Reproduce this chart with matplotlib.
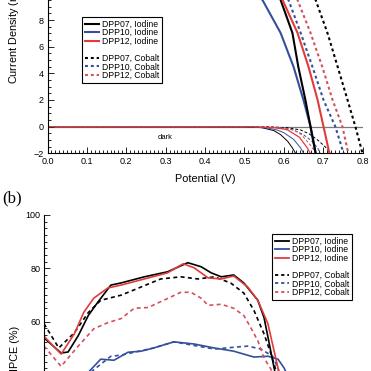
import matplotlib
matplotlib.use("Agg")
import matplotlib.pyplot as plt
from matplotlib.lines import Line2D
from matplotlib.ticker import MultipleLocator, FixedLocator

plt.rcParams["font.family"] = ["Liberation Sans", "DejaVu Sans"]

# ── colours ───────────────────────────────────────────────────────────────────
BLACK = "#000000"
BLUE = "#34509a"
RED = "#e03c3c"
RED_CO = "#d4505a"

# ── (a) J-V curves, illuminated ──────────────────────────────────────────────
v_dpp07_i = [0.0, 0.45, 0.54, 0.592, 0.622, 0.637, 0.655, 0.668, 0.681, 0.69]
j_dpp07_i = [15.0, 14.5, 12.8, 9.5, 7.03, 4.48, 2.0, 0.0, -2.0, -3.0]
v_dpp10_i = [0.0, 0.35, 0.47, 0.546, 0.592, 0.625, 0.650, 0.668, 0.681, 0.69]
j_dpp10_i = [13.0, 12.5, 11.8, 9.5, 7.03, 4.48, 2.0, 0.0, -2.0, -3.0]
v_dpp12_i = [0.0, 0.45, 0.54, 0.597, 0.635, 0.663, 0.686, 0.701, 0.716, 0.725]
j_dpp12_i = [14.5, 14.0, 12.5, 9.5, 7.03, 4.48, 2.0, 0.0, -2.0, -3.0]
v_dpp07_c = [0.0, 0.52, 0.62, 0.681, 0.711, 0.737, 0.762, 0.782, 0.800, 0.81]
j_dpp07_c = [15.5, 15.0, 12.5, 9.5, 7.03, 4.48, 2.0, 0.0, -2.0, -3.0]
v_dpp10_c = [0.0, 0.45, 0.55, 0.612, 0.643, 0.673, 0.701, 0.731, 0.752, 0.76]
j_dpp10_c = [14.0, 13.5, 12.0, 9.5, 7.03, 4.48, 2.0, 0.0, -2.0, -3.0]
v_dpp12_c = [0.0, 0.48, 0.58, 0.635, 0.668, 0.698, 0.724, 0.749, 0.764, 0.772]
j_dpp12_c = [14.5, 14.0, 12.3, 9.5, 7.03, 4.48, 2.0, 0.0, -2.0, -3.0]

# ── (a) J-V curves, dark ─────────────────────────────────────────────────────
vd_dpp07_i = [0.0, 0.50, 0.545, 0.575, 0.592, 0.61, 0.622, 0.632, 0.64]
jd_dpp07_i = [0.0, -0.01, -0.08, -0.3, -0.6, -1.1, -1.6, -2.1, -2.6]
vd_dpp10_i = [0.0, 0.51, 0.56, 0.585, 0.60, 0.625, 0.643, 0.652, 0.66]
jd_dpp10_i = [0.0, -0.01, -0.1, -0.27, -0.45, -0.95, -1.6, -2.1, -2.6]
vd_dpp12_i = [0.0, 0.52, 0.575, 0.60, 0.61, 0.64, 0.66, 0.669, 0.675]
jd_dpp12_i = [0.0, -0.01, -0.08, -0.18, -0.25, -0.8, -1.6, -2.1, -2.6]
vd_dpp07_c = [0.0, 0.56, 0.61, 0.643, 0.665, 0.686, 0.705, 0.72, 0.73]
jd_dpp07_c = [0.0, -0.01, -0.08, -0.25, -0.55, -1.0, -1.5, -2.05, -2.5]
vd_dpp10_c = [0.0, 0.54, 0.595, 0.625, 0.65, 0.672, 0.686, 0.694, 0.70]
jd_dpp10_c = [0.0, -0.01, -0.08, -0.25, -0.6, -1.1, -1.6, -2.1, -2.6]
vd_dpp12_c = [0.0, 0.53, 0.585, 0.625, 0.645, 0.668, 0.676, 0.682, 0.69]
jd_dpp12_c = [0.0, -0.01, -0.08, -0.25, -0.6, -1.4, -1.75, -2.1, -2.6]

# ── (b) IPCE spectra ─────────────────────────────────────────────────────────
wl_dpp07_i = [400, 422, 431, 444, 457, 469, 486, 499, 529, 559, 585, 602, 615,
              628, 644, 657, 675, 683, 689, 696, 705, 718, 735, 760]
ipce_dpp07_i = [53.9, 48.2, 48.6, 54.7, 62.3, 67.2, 73.7, 74.5, 76.8, 78.7, 82.1,
                80.6, 78.3, 76.8, 77.5, 74.5, 68.0, 61.5, 52.8, 42.5, 30, 12, 3, 0.5]
wl_dpp12_i = [400, 422, 439, 451, 464, 482, 499, 529, 559, 579, 593, 611, 628,
              644, 662, 675, 688, 696, 702, 712, 725, 740, 760]
ipce_dpp12_i = [54.5, 47.8, 55.4, 63.4, 68.8, 72.6, 73.7, 76.0, 78.3, 81.7, 80.2,
                76.4, 76.0, 77.1, 73.0, 68.0, 59.2, 48.9, 41.3, 28, 12, 3, 0.5]
wl_dpp10_i = [400, 420, 440, 457, 473, 490, 508, 525, 541, 567, 593, 619, 644,
              670, 688, 701, 709, 714, 725, 740, 760]
ipce_dpp10_i = [30, 27, 33, 41, 45.9, 45.5, 48.5, 48.9, 50.1, 52.4, 51.6, 50.1,
                48.9, 46.7, 47.0, 45.9, 42.5, 39, 25, 8, 1]
wl_dpp07_c = [400, 419, 439, 457, 473, 499, 525, 550, 576, 598, 619, 640, 657,
              670, 683, 692, 698, 710, 725, 745]
ipce_dpp07_c = [59.2, 50.1, 55.8, 63.4, 68.0, 69.9, 73.0, 76.0, 76.8, 76.0, 76.8,
                74.5, 70.7, 64.2, 55.4, 47.8, 42.0, 25, 8, 1]
wl_dpp10_c = [400, 420, 440, 460, 486, 499, 541, 567, 619, 649, 662, 679, 694,
              701, 712, 725, 745]
ipce_dpp10_c = [28, 25, 32, 41, 47.0, 47.4, 50.1, 52.4, 49.7, 50.5, 50.8, 49.7,
                47.0, 42.5, 30, 10, 1]
wl_dpp12_c = [400, 422, 444, 464, 482, 499, 516, 534, 554, 576, 589, 602, 611,
              628, 644, 657, 666, 675, 683, 692, 705, 720, 740]
ipce_dpp12_c = [50.8, 43.2, 50.8, 57.3, 59.6, 61.1, 65.0, 65.3, 68.0, 71.0, 71.0,
                68.8, 66.1, 66.5, 65.0, 62.3, 57.7, 52.8, 46.3, 42.1, 28, 10, 1]

ipce_ticks = [60, 80, 100]
legend_labels = ["DPP07, Iodine", "DPP10, Iodine", "DPP12, Iodine", "",
                 "DPP07, Cobalt", "DPP10, Cobalt", "DPP12, Cobalt"]

W = 371.0
fig = plt.figure(figsize=(3.71, 3.71), dpi=100)


def style_axis(ax):
    for side in ("top", "right"):
        ax.spines[side].set_visible(False)
    for side in ("left", "bottom"):
        ax.spines[side].set_linewidth(0.8)
    ax.tick_params(which="both", direction="in", labelsize=6.5, pad=2.5, width=0.6)
    ax.tick_params(which="major", length=4)
    ax.tick_params(which="minor", length=2)
    ax.tick_params(top=False, right=False)


def make_legend(ax, lw, dash, x_px, y_px):
    cols = [BLACK, BLUE, RED, "none", BLACK, BLUE, RED_CO]
    handles = []
    for i, (c, lab) in enumerate(zip(cols, legend_labels)):
        if i < 3:
            handles.append(Line2D([], [], color=c, lw=lw))
        elif i == 3:
            handles.append(Line2D([], [], color="none"))
        else:
            handles.append(Line2D([], [], color=c, lw=lw, dashes=dash))
    leg = ax.legend(handles, legend_labels, loc="upper left",
                    bbox_to_anchor=(x_px / W, 1 - y_px / W),
                    bbox_transform=fig.transFigure, fontsize=6.2,
                    handlelength=1.7, handletextpad=0.3, labelspacing=-0.05,
                    borderpad=0.3, borderaxespad=0, fancybox=False,
                    framealpha=1, edgecolor="black")
    leg.get_frame().set_linewidth(0.8)
    return leg


# ── panel (a) ────────────────────────────────────────────────────────────────
px_per_j = 13.33
ax1 = fig.add_axes([47.5 / W, 1 - 153.3 / W, 315 / W, 11.5 * px_per_j / W])
style_axis(ax1)
ax1.axhline(0, color="#7a7a7a", lw=0.9, zorder=1)

thin = 0.7
ax1.plot(vd_dpp07_c, jd_dpp07_c, color=BLACK, lw=thin, dashes=(3, 2))
ax1.plot(vd_dpp10_c, jd_dpp10_c, color=BLUE, lw=thin, dashes=(3, 2))
ax1.plot(vd_dpp12_c, jd_dpp12_c, color=RED_CO, lw=thin, dashes=(3, 2))
ax1.plot(vd_dpp07_i, jd_dpp07_i, color=BLACK, lw=thin)
ax1.plot(vd_dpp10_i, jd_dpp10_i, color=BLUE, lw=thin)
ax1.plot(vd_dpp12_i, jd_dpp12_i, color=RED, lw=0.9)

thick = 1.5
dash_a = (1.4, 1.4)
ax1.plot(v_dpp07_c, j_dpp07_c, color=BLACK, lw=thick, dashes=dash_a)
ax1.plot(v_dpp10_c, j_dpp10_c, color=BLUE, lw=thick, dashes=dash_a)
ax1.plot(v_dpp12_c, j_dpp12_c, color=RED_CO, lw=thick, dashes=dash_a)
ax1.plot(v_dpp10_i, j_dpp10_i, color=BLUE, lw=thick)
ax1.plot(v_dpp07_i, j_dpp07_i, color=BLACK, lw=thick)
ax1.plot(v_dpp12_i, j_dpp12_i, color=RED, lw=thick)

ax1.set_xlim(0, 0.8)
ax1.set_ylim(-2, 9.5)
ax1.xaxis.set_major_locator(MultipleLocator(0.1))
ax1.xaxis.set_minor_locator(MultipleLocator(0.01))
ax1.yaxis.set_major_locator(MultipleLocator(2))
ax1.yaxis.set_minor_locator(MultipleLocator(0.5))
ax1.set_xlabel("Potential (V)", fontsize=7.8, labelpad=6)
ax1.text(0.3, -0.8, "dark", fontsize=5.5, ha="center", va="center")
fig.text(13.5 / W, 1 - 84 / W, "Current Density (mA cm$^{-2}$)", rotation=90,
         fontsize=7.8, ha="center", va="bottom")
make_legend(ax1, 1.5, (1.4, 1.4), 82, 17)

# ── panel (b) ────────────────────────────────────────────────────────────────
ax2 = fig.add_axes([44 / W, (W - 481.5) / W, 311 / W, 266.5 / W])
style_axis(ax2)
ax2.spines["bottom"].set_visible(False)
lw_b = 1.2
dash_b = (2.4, 2.0)
ax2.plot(wl_dpp10_c, ipce_dpp10_c, color=BLUE, lw=lw_b, dashes=dash_b)
ax2.plot(wl_dpp10_i, ipce_dpp10_i, color=BLUE, lw=lw_b)
ax2.plot(wl_dpp12_c, ipce_dpp12_c, color=RED_CO, lw=lw_b, dashes=dash_b)
ax2.plot(wl_dpp07_c, ipce_dpp07_c, color=BLACK, lw=lw_b, dashes=dash_b)
ax2.plot(wl_dpp07_i, ipce_dpp07_i, color=BLACK, lw=lw_b)
ax2.plot(wl_dpp12_i, ipce_dpp12_i, color=RED, lw=lw_b)
ax2.set_xlim(400, 800)
ax2.set_ylim(0, 100)
ax2.yaxis.set_major_locator(FixedLocator(ipce_ticks))
ax2.yaxis.set_minor_locator(MultipleLocator(2.5))
ax2.tick_params(bottom=False, labelbottom=False)
fig.text(14.5 / W, 1 - 326 / W, "IPCE (%)", rotation=90, fontsize=7.8,
         ha="center", va="top")
fig.text(2 / W, 1 - 198 / W, "(b)", fontsize=12, family="Liberation Serif",
         ha="left", va="center")
make_legend(ax2, 1.3, (1.8, 1.6), 272, 234)

fig.savefig("out.png", dpi=100)
